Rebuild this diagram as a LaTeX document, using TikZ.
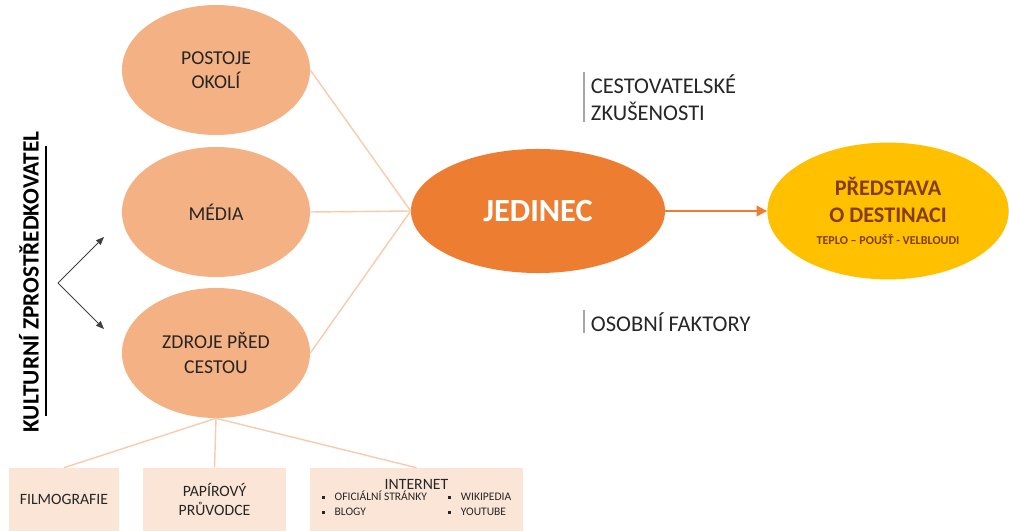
\documentclass[tikz,border=0pt]{standalone}
\usepackage{fontspec}
\setmainfont{Carlito}
\usetikzlibrary{shapes.geometric, arrows.meta, positioning}
\definecolor{peach}{HTML}{F4B183}
\definecolor{accorange}{HTML}{ED7D31}
\definecolor{gold}{HTML}{FFC000}
\definecolor{brownt}{HTML}{843C0C}
\definecolor{linepeach}{HTML}{F8CBAD}
\definecolor{boxpeach}{HTML}{FBE5D6}
\definecolor{darktext}{HTML}{262626}
\newcommand{\sqbullet}{\rule[0.25ex]{2.2pt}{2.2pt}\hspace{7pt}}

\begin{document}
\begin{tikzpicture}[x=0.025cm, y=-0.025cm,
    source/.style={ellipse, fill=peach, minimum width=4.7cm, minimum height=3.25cm, inner sep=0pt, align=center, text=darktext, font=\fontsize{14}{17.5}\selectfont},
    person/.style={ellipse, fill=accorange, minimum width=6.35cm, minimum height=3.1cm, inner sep=0pt, text=white, font=\fontsize{23}{26}\selectfont\bfseries},
    image/.style={ellipse, fill=gold, minimum width=6.03cm, minimum height=3.42cm, inner sep=0pt, align=center, text=brownt, font=\fontsize{15.8}{19}\selectfont\bfseries},
    media/.style={rectangle, fill=boxpeach, minimum height=1.575cm, inner sep=0pt, align=center, text=darktext, font=\fontsize{11.2}{14}\selectfont},
    factor/.style={align=left, anchor=west, text=darktext, font=\fontsize{16}{19}\selectfont},
    link/.style={draw=linepeach, line width=1pt},
    arrow/.style={-{Triangle[length=2.6mm, width=2.6mm]}, draw=accorange, line width=1.4pt},
    forkarrow/.style={-{Triangle[length=2mm, width=1.6mm]}, draw=black!75, line width=0.6pt},
    bar/.style={draw=black!35, line width=0.8pt}
]
\useasboundingbox (0,0) rectangle (1009,531);

\node[source] (postoje) at (216,70) {POSTOJE\\OKOLÍ};
\node[source] (media) at (216,212) {MÉDIA};
\node[source] (zdroje) at (216,353) {ZDROJE PŘED\\CESTOU};

\node[person] (jedinec) at (538,211) {JEDINEC};
\node[image] (predstava) at (888,211) {PŘEDSTAVA\\O DESTINACI\\[-3pt]{\fontsize{8.6}{10}\selectfont TEPLO – POUŠŤ - VELBLOUDI}};

\node[factor] (zkusenosti) at (586,98) {CESTOVATELSKÉ\\ZKUŠENOSTI};
\node[factor] (osobni) at (586,322) {OSOBNÍ FAKTORY};
\draw[bar] (584,72) -- (584,122);
\draw[bar] (584,310) -- (584,333);

\node[media, minimum width=2.75cm] (film) at (64,499.5) {FILMOGRAFIE};
\node[media, minimum width=3.575cm] (papir) at (214.5,499.5) {PAPÍROVÝ\\PRŮVODCE};
\node[media, minimum width=5.325cm] (internet) at (416.5,499.5) {INTERNET\\[-1pt]
  {\fontsize{8.2}{10.5}\selectfont\begin{tabular}{@{}l@{\hspace{15pt}}l@{}}
  \sqbullet OFICIÁLNÍ STRÁNKY & \sqbullet WIKIPEDIA\\
  \sqbullet BLOGY & \sqbullet YOUTUBE
  \end{tabular}}};

\node[rotate=90, font=\fontsize{16.6}{19}\selectfont\bfseries] (kultura) at (29,282) {KULTURNÍ ZPROSTŘEDKOVATEL};
\draw[line width=1pt] (46,146) -- (46,416);

\coordinate (fork) at (58,283);
\coordinate (forkup) at (104,237);
\coordinate (forkdown) at (104,329);
\draw[forkarrow] (fork) -- (forkup);
\draw[forkarrow] (fork) -- (forkdown);

\draw[link] (postoje.east) -- (jedinec.west);
\draw[link] (media.east) -- (jedinec.west);
\draw[link] (zdroje.east) -- (jedinec.west);

\draw[link] (zdroje.south) -- (film.north);
\draw[link] (zdroje.south) -- (papir.north);
\draw[link] (zdroje.south) -- (internet.north);

\draw[arrow] (jedinec.east) -- (predstava.west);
\end{tikzpicture}
\end{document}
